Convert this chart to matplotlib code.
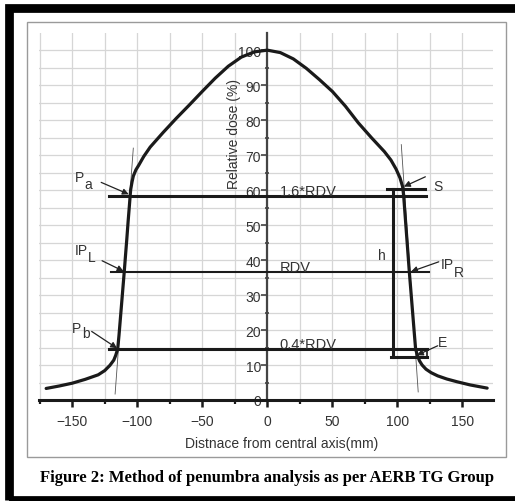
import matplotlib
matplotlib.use("Agg")
import matplotlib.pyplot as plt
from matplotlib.patches import Rectangle
from matplotlib.ticker import MultipleLocator

plt.rcParams['font.family'] = ['Liberation Sans', 'DejaVu Sans']

# Beam profile (distance from central axis in mm, relative dose in %)
left_x = [-170, -160, -150, -140, -130, -125, -121, -118, -116.5, -115, -114, -113,
          -112, -111, -110, -109, -108, -107, -106, -105.4, -105, -104, -103, -101,
          -99, -95, -90, -80, -70, -60, -50, -40, -30, -20, -10, 0]
left_y = [3.3, 4.0, 4.8, 5.9, 7.2, 8.4, 9.9, 11.4, 12.8, 14.6, 18.5, 23,
          27.5, 32, 36.5, 41.3, 46, 51, 55.6, 58.5, 60.2, 62.3, 64.0, 65.8,
          67.0, 69.6, 72.3, 76.5, 80.5, 84.3, 88.2, 92, 95.4, 98.0, 99.5, 100]
right_x = [10, 20, 30, 40, 50, 60, 70, 80, 90, 95, 99, 102, 104, 104.8, 106, 108,
           109.2, 110.5, 112, 113, 114, 115.5, 117, 119, 122, 126, 131, 138, 146,
           156, 169]
right_y = [99.3, 97.5, 94.8, 91.6, 88.2, 84.0, 79.2, 75.0, 71.0, 68.6, 66.0, 63.5,
           61.0, 58.5, 52.5, 42.5, 36.5, 30.6, 23.7, 19.1, 14.6, 12.6, 11.2, 10.0,
           8.8, 7.8, 6.9, 6.0, 5.2, 4.3, 3.4]

# Reference dose value and the analysis levels
RDV = 36.5
level_values = [1.6 * RDV, RDV, 0.4 * RDV]
level_names = ["1.6*RDV", "RDV", "0.4*RDV"]
level_spans = [(-121.5, 122), (-120, 124), (-121.5, 123)]
level_widths = [2.2, 1.5, 2.2]

# Tangents to the penumbra edges
tangent_left_x = [-103, -117]
tangent_left_y = [72, 1.7]
tangent_right_x = [103, 116]
tangent_right_y = [73, 2.3]

# Height marker h between S and E
h_x = 97
s_level = 60.2
e_level = 12.3
s_span = (92, 121.5)
e_span = (95, 123)

# Point labels: (main text, subscript, x, baseline y, subscript drop in pt,
#                arrow tail, arrow head)
point_labels = [
    ("P", "a", -148.0, 62.5, 5.0, (-127.7, 62.2), (-106.5, 58.8)),
    ("IP", "L", -148.0, 41.8, 5.0, (-127.0, 39.8), (-110.5, 36.8)),
    ("P", "b", -150.0, 19.5, 4.0, (-135.0, 19.6), (-115.5, 14.8)),
    ("S", "", 127.7, 59.9, 0, (121.5, 63.8), (105.0, 61.0)),
    ("IP", "R", 133.0, 37.8, 6.0, (131.8, 39.5), (110.5, 36.7)),
    ("E", "", 131.5, 15.5, 0, (131.0, 15.5), (115.0, 12.8)),
]

W, H = 515, 502
fig = plt.figure(figsize=(W / 100, H / 100), dpi=100)

# Outer black border and inner grey frame
fig.patches.append(Rectangle((9 / W, (H - 501) / H), (530 - 9) / W, (501 - 8.5) / H,
                             transform=fig.transFigure, fill=False,
                             edgecolor='black', linewidth=6.3, zorder=0))
fig.patches.append(Rectangle((27 / W, (H - 458) / H), (506 - 27) / W, (458 - 23) / H,
                             transform=fig.transFigure, fill=False,
                             edgecolor='#9a9a9a', linewidth=1.0, zorder=0))

ax = fig.add_axes([39 / W, (H - 401) / H, (493 - 39) / W, (401 - 34) / H])
ax.set_xlim(-175.5, 173.5)
ax.set_ylim(0, 104.9)
ax.patch.set_alpha(0)

# Grid
ax.xaxis.set_major_locator(MultipleLocator(50))
ax.xaxis.set_minor_locator(MultipleLocator(25))
ax.yaxis.set_major_locator(MultipleLocator(10))
ax.yaxis.set_minor_locator(MultipleLocator(5))
ax.grid(True, which='both', color='#d6d6d6', linewidth=0.9, zorder=0)
ax.set_axisbelow(True)

# Axes through the origin
for side in ['top', 'right']:
    ax.spines[side].set_visible(False)
ax.spines['left'].set_position(('data', 0))
ax.spines['left'].set_color('#444444')
ax.spines['left'].set_linewidth(1.6)
ax.spines['bottom'].set_color('#1a1a1a')
ax.spines['bottom'].set_linewidth(2.2)
ax.tick_params(axis='x', which='major', direction='out', length=5, width=1.8,
               color='#1a1a1a', labelsize=10, labelcolor='#333333', pad=5)
ax.tick_params(axis='x', which='minor', direction='out', length=3, width=1.6,
               color='#1a1a1a')
ax.tick_params(axis='y', which='major', direction='out', length=4, width=1.2,
               color='#444444', labelsize=10, labelcolor='#333333', pad=0.5)
ax.tick_params(axis='y', which='minor', direction='inout', length=3, width=1.2,
               color='#444444')
ax.set_yticks(range(0, 101, 10))

ax.text(-25.8, 76.2, "Relative dose (%)", rotation=90, ha='center', va='center',
        fontsize=10, color='#333333')
fig.text(281.5 / W, (H - 444) / H, "Distnace from central axis(mm)", ha='center',
         va='center', fontsize=10, color='#333333')

# Profile
ax.plot(left_x + right_x, left_y + right_y, color='#1a1a1a', linewidth=2.3,
        solid_capstyle='round', zorder=5)

# Tangents
ax.plot(tangent_left_x, tangent_left_y, color='#555555', linewidth=0.6, zorder=4)
ax.plot(tangent_right_x, tangent_right_y, color='#555555', linewidth=0.6, zorder=4)

# Levels
for val, name, span, lw in zip(level_values, level_names, level_spans, level_widths):
    ax.plot(span, [val, val], color='#1a1a1a', linewidth=lw, zorder=4)
    ax.text(9.5, val + 0.3, name, ha='left', va='baseline', fontsize=10.5,
            color='#333333', zorder=6)

# h marker
ax.plot([h_x, h_x], [s_level, e_level], color='#1a1a1a', linewidth=2.2, zorder=4)
ax.plot(s_span, [s_level, s_level], color='#1a1a1a', linewidth=2.2, zorder=4)
ax.plot(e_span, [e_level, e_level], color='#1a1a1a', linewidth=2.2, zorder=4)
ax.plot([e_span[1], e_span[1]], [e_level, level_values[2]], color='#1a1a1a',
        linewidth=1.2, zorder=4)
ax.text(85.4, 40.4, "h", ha='left', va='baseline', fontsize=10, color='#333333')

# Point labels with arrows
for main, sub, lx, ly, drop, tail, head in point_labels:
    t = ax.text(lx, ly, main, ha='left', va='baseline', fontsize=10, color='#333333')
    if sub:
        ax.annotate(sub, xy=(1, 0), xycoords=t, xytext=(0.3, -drop),
                    textcoords='offset points', ha='left', va='bottom',
                    fontsize=10, color='#333333')
    ax.annotate("", xy=head, xytext=tail,
                arrowprops=dict(arrowstyle='-|>', color='#222222', lw=0.9,
                                mutation_scale=9, shrinkA=0, shrinkB=0),
                zorder=6)

fig.text(267.5 / W, (H - 478) / H,
         "Figure 2: Method of penumbra analysis as per AERB TG Group",
         ha='center', va='center', fontsize=12, fontweight='bold',
         family=['Liberation Serif', 'DejaVu Serif'])

fig.savefig("out.png", dpi=100)
